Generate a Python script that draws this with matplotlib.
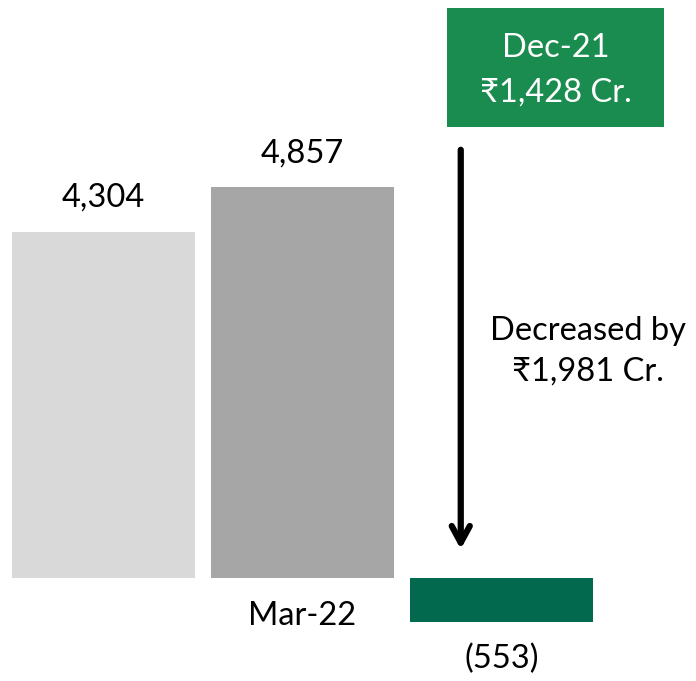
import matplotlib.pyplot as plt
from matplotlib.patches import Rectangle

plt.rcParams['font.family'] = ['Lato', 'DejaVu Sans']

# bar values (Rs Cr.)
values = [4304, 4857, -553]
value_labels = ['4,304', '4,857', '(553)']
bar_colors = ['#D9D9D9', '#A6A6A6', '#02694F']
category = 'Mar-22'
box_lines = ['Dec-21', '\u20b91,428 Cr.']
change_lines = ['Decreased by', '\u20b91,981 Cr.']

FS = 23.5

fig = plt.figure(figsize=(6.96, 6.81), dpi=100)
ax = fig.add_axes([0, 0, 1, 1])
ax.set_xlim(-0.52, 2.977)
ax.set_ylim(-1280, 7180)
ax.axis('off')

xs = range(len(values))
ax.bar(xs, values, width=0.92, color=bar_colors)

# value labels: above positive bars, below negative ones
for x, v, lab in zip(xs, values, value_labels):
    if v >= 0:
        ax.text(x, v + 230, lab, ha='center', va='bottom', fontsize=FS)
    else:
        ax.text(x, v - 260, lab, ha='center', va='top', fontsize=FS)

ax.text(1, -280, category, ha='center', va='top', fontsize=FS)

# Dec-21 box
ax.add_patch(Rectangle((0.642, 0.8135), 0.312, 0.1747, transform=ax.transAxes,
                       facecolor='#1B8C4F', edgecolor='none'))
ax.text(0.798, 0.897, '\n'.join(box_lines), transform=ax.transAxes,
        ha='center', va='center', color='white', fontsize=FS, linespacing=1.6)

# arrow from the box down to the bar
ax.annotate('', xy=(0.662, 1 - 552 / 681), xytext=(0.662, 1 - 147 / 681),
            xycoords='axes fraction',
            arrowprops=dict(arrowstyle='->, head_length=1.2, head_width=0.65',
                            lw=4.5, color='black'))
ax.text(0.845, 1 - 351 / 681, '\n'.join(change_lines), transform=ax.transAxes,
        ha='center', va='center', fontsize=FS, linespacing=1.45)

fig.savefig('out.png', dpi=100)
